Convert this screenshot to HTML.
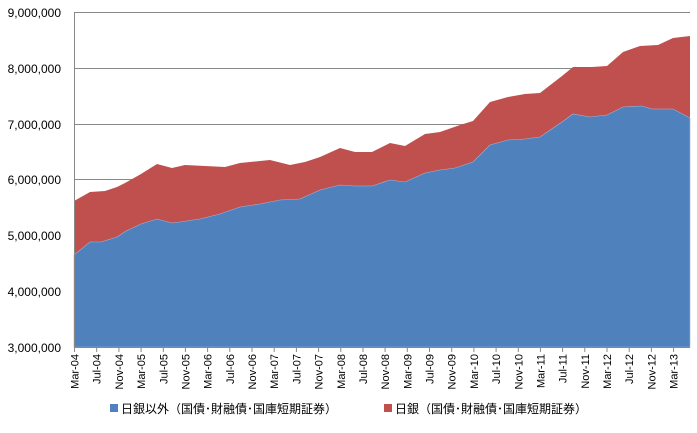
<!DOCTYPE html>
<html><head><meta charset="utf-8"><style>
body{margin:0;background:#fff;}
svg text{font-family:"Liberation Sans","Noto Sans CJK JP",sans-serif;fill:#000;}
</style></head><body>
<svg width="697" height="428" viewBox="0 0 697 428" xmlns="http://www.w3.org/2000/svg">
<g stroke="#888" stroke-width="1">
<line x1="74" y1="12.5" x2="690" y2="12.5"/>
<line x1="74" y1="68.5" x2="690" y2="68.5"/>
<line x1="74" y1="124.5" x2="690" y2="124.5"/>
<line x1="74" y1="179.5" x2="690" y2="179.5"/>
<line x1="74" y1="235.5" x2="690" y2="235.5"/>
<line x1="74" y1="291.5" x2="690" y2="291.5"/>
</g>
<polygon fill="#c0504d" points="74,347 74,201 90,192 105,191 117,187 125,183 141,174 157,164 172,168 185,165 205,166 225,167 240,163 260,161 270,160 290,165 305,162 320,157 340,148 355,152 372,152 390,143 405,146 425,134 440,132 460,125 473,121 490,102 508,97 525,94 540,93 562,76 573,67 592,67 607,66 623,52 640,46 658,45 673,38 690,36 690,347"/>
<polygon fill="#4f81bd" stroke="#9db5d8" stroke-width="0.6" points="74,347 74,255 90,242 101,242 117,237 126,231 141,224 157,219 172,223 180,222 200,219 220,214 240,207 260,204 280,200 300,199 320,190 340,185 355,186 372,186 390,180 405,182 425,173 440,170 455,168 473,162 490,145 508,140 525,139 540,137 562,122 573,114 590,117 607,115 623,107 642,106 652,109 673,109 690,118 690,347"/>
<line x1="74.5" y1="12" x2="74.5" y2="347" stroke="#888"/>
<line x1="74" y1="347.5" x2="690" y2="347.5" stroke="#888"/>
<g font-size="12" text-anchor="end">
<text x="61" y="17">9,000,000</text>
<text x="61" y="73">8,000,000</text>
<text x="61" y="129">7,000,000</text>
<text x="61" y="184">6,000,000</text>
<text x="61" y="240">5,000,000</text>
<text x="61" y="296">4,000,000</text>
<text x="61" y="352">3,000,000</text>
</g>
<g stroke="#888">
<line x1="74.5" y1="347" x2="74.5" y2="352"/><line x1="96.7" y1="347" x2="96.7" y2="352"/><line x1="118.9" y1="347" x2="118.9" y2="352"/><line x1="141.1" y1="347" x2="141.1" y2="352"/><line x1="163.3" y1="347" x2="163.3" y2="352"/><line x1="185.4" y1="347" x2="185.4" y2="352"/><line x1="207.6" y1="347" x2="207.6" y2="352"/><line x1="229.8" y1="347" x2="229.8" y2="352"/><line x1="252" y1="347" x2="252" y2="352"/><line x1="274.2" y1="347" x2="274.2" y2="352"/><line x1="296.4" y1="347" x2="296.4" y2="352"/><line x1="318.6" y1="347" x2="318.6" y2="352"/><line x1="340.8" y1="347" x2="340.8" y2="352"/><line x1="363" y1="347" x2="363" y2="352"/><line x1="385.1" y1="347" x2="385.1" y2="352"/><line x1="407.3" y1="347" x2="407.3" y2="352"/><line x1="429.5" y1="347" x2="429.5" y2="352"/><line x1="451.7" y1="347" x2="451.7" y2="352"/><line x1="473.9" y1="347" x2="473.9" y2="352"/><line x1="496.1" y1="347" x2="496.1" y2="352"/><line x1="518.3" y1="347" x2="518.3" y2="352"/><line x1="540.4" y1="347" x2="540.4" y2="352"/><line x1="562.6" y1="347" x2="562.6" y2="352"/><line x1="584.8" y1="347" x2="584.8" y2="352"/><line x1="607" y1="347" x2="607" y2="352"/><line x1="629.2" y1="347" x2="629.2" y2="352"/><line x1="651.4" y1="347" x2="651.4" y2="352"/><line x1="673.6" y1="347" x2="673.6" y2="352"/>
</g>
<g font-size="11" text-anchor="end">
<text transform="translate(78.5,354) rotate(-90)">Mar-04</text>
<text transform="translate(100.7,354) rotate(-90)">Jul-04</text>
<text transform="translate(122.9,354) rotate(-90)">Nov-04</text>
<text transform="translate(145.1,354) rotate(-90)">Mar-05</text>
<text transform="translate(167.3,354) rotate(-90)">Jul-05</text>
<text transform="translate(189.4,354) rotate(-90)">Nov-05</text>
<text transform="translate(211.6,354) rotate(-90)">Mar-06</text>
<text transform="translate(233.8,354) rotate(-90)">Jul-06</text>
<text transform="translate(256,354) rotate(-90)">Nov-06</text>
<text transform="translate(278.2,354) rotate(-90)">Mar-07</text>
<text transform="translate(300.4,354) rotate(-90)">Jul-07</text>
<text transform="translate(322.6,354) rotate(-90)">Nov-07</text>
<text transform="translate(344.8,354) rotate(-90)">Mar-08</text>
<text transform="translate(367,354) rotate(-90)">Jul-08</text>
<text transform="translate(389.1,354) rotate(-90)">Nov-08</text>
<text transform="translate(411.3,354) rotate(-90)">Mar-09</text>
<text transform="translate(433.5,354) rotate(-90)">Jul-09</text>
<text transform="translate(455.7,354) rotate(-90)">Nov-09</text>
<text transform="translate(477.9,354) rotate(-90)">Mar-10</text>
<text transform="translate(500.1,354) rotate(-90)">Jul-10</text>
<text transform="translate(522.3,354) rotate(-90)">Nov-10</text>
<text transform="translate(544.4,354) rotate(-90)">Mar-11</text>
<text transform="translate(566.6,354) rotate(-90)">Jul-11</text>
<text transform="translate(588.8,354) rotate(-90)">Nov-11</text>
<text transform="translate(611,354) rotate(-90)">Mar-12</text>
<text transform="translate(633.2,354) rotate(-90)">Jul-12</text>
<text transform="translate(655.4,354) rotate(-90)">Nov-12</text>
<text transform="translate(677.6,354) rotate(-90)">Mar-13</text>
</g>
<rect x="110" y="404" width="8" height="8" fill="#4f81bd"/>
<text x="121" y="413" font-size="12">日銀以外（国債･財融債･国庫短期証券）</text>
<rect x="384" y="404" width="8" height="8" fill="#c0504d"/>
<text x="395" y="413" font-size="12">日銀（国債･財融債･国庫短期証券）</text>
</svg>
</body></html>
